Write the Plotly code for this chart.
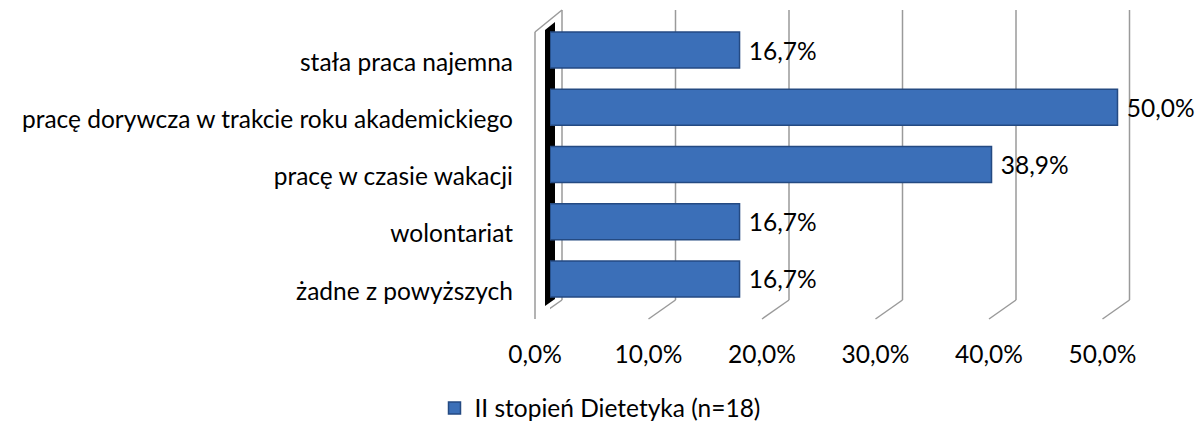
import plotly.graph_objects as go

W, H = 1200, 423

categories = [
    'stała praca najemna',
    'pracę dorywcza w trakcie roku akademickiego',
    'pracę w czasie wakacji',
    'wolontariat',
    'żadne z powyższych',
]
values = [0.167, 0.500, 0.389, 0.167, 0.167]
series_name = 'II stopień Dietetyka (n=18)'
ticks = [0.0, 0.1, 0.2, 0.3, 0.4, 0.5]

FONT = 'Lato'
FS = 24.5
BAR = '#3b6fb8'
BAR_EDGE = '#244a82'
GRID = '#9a9a9a'


def px(x):
    return x / W


def py(y):
    return 1 - y / H


fig = go.Figure()

fig.add_trace(go.Bar(
    x=values,
    y=categories,
    orientation='h',
    name=series_name,
    marker=dict(color=BAR, line=dict(color=BAR_EDGE, width=1.5)),
    texttemplate=' %{x:.1%}',
    textposition='outside',
    textfont=dict(size=FS, color='#000', family=FONT),
    cliponaxis=False,
    xaxis='x', yaxis='y',
))

# niewidoczny slad, zeby os z etykietami procentowymi (przod) sie narysowala
fig.add_trace(go.Scatter(
    x=[ticks[0], ticks[-1]], y=[categories[0], categories[0]],
    mode='markers', marker=dict(opacity=0), showlegend=False,
    hoverinfo='skip', xaxis='x2', yaxis='y',
))

shapes = []
# linie siatki na tylnej scianie + przekatne podlogi
for t in ticks:
    shapes.append(dict(
        type='line', layer='below', xref='x', xsizemode='pixel', xanchor=t,
        x0=12, x1=12, yref='paper', y0=py(300), y1=py(10),
        line=dict(color=GRID, width=1.5),
    ))
    shapes.append(dict(
        type='line', layer='below', xref='x', xsizemode='pixel', xanchor=t,
        x0=12, x1=-15, yref='paper', ysizemode='pixel', yanchor=py(300),
        y0=0, y1=-19,
        line=dict(color=GRID, width=1.5),
    ))

# lewa sciana (obrys + czarny bok)
shapes.append(dict(type='line', layer='below', xref='paper', yref='paper',
                   x0=px(535), x1=px(535), y0=py(319), y1=py(32),
                   line=dict(color=GRID, width=1.5)))
shapes.append(dict(type='line', layer='below', xref='paper', yref='paper',
                   x0=px(535), x1=px(562), y0=py(32), y1=py(10),
                   line=dict(color=GRID, width=1.5)))
shapes.append(dict(
    type='path', layer='below', xref='paper', yref='paper',
    path=(f'M {px(545)} {py(306)} L {px(545)} {py(30)} L {px(555)} {py(22)} '
          f'L {px(555)} {py(299)} Z'),
    fillcolor='#000', line=dict(width=0),
))

fig.update_layout(
    width=W, height=H,
    margin=dict(l=0, r=0, t=0, b=0, autoexpand=False),
    paper_bgcolor='white',
    plot_bgcolor='rgba(0,0,0,0)',
    separators=', ',
    font=dict(family=FONT, color='#000', size=FS),
    bargap=0.37,
    shapes=shapes,
    xaxis=dict(
        domain=[px(550), px(550 + 0.55 * 1135)],
        range=[0, 0.55],
        visible=False,
        anchor='y',
    ),
    yaxis=dict(
        domain=[py(307.6), py(21.4)],
        categoryorder='array',
        categoryarray=categories[::-1],
        showgrid=False, zeroline=False, showline=False,
        ticks='',
        ticklabelstandoff=36,
        ticklabelshift=12,
        tickfont=dict(size=FS, family=FONT),
        anchor='x',
        automargin=False,
    ),
    xaxis2=dict(
        domain=[px(535), px(535 + 0.5 * 1135)],
        range=[0, 0.5],
        tickvals=ticks,
        tickformat='.1%',
        showgrid=False, zeroline=False, showline=False,
        ticks='',
        tickfont=dict(size=FS, family=FONT),
        anchor='free',
        position=py(337),
        automargin=False,
    ),
    legend=dict(
        orientation='h',
        x=0.5, xanchor='center',
        y=py(408), yanchor='middle',
        font=dict(size=FS, family=FONT),
    ),
    showlegend=True,
)

fig.write_html('out.html', config={'displayModeBar': False},
               post_script="document.body.style.margin='0';")
